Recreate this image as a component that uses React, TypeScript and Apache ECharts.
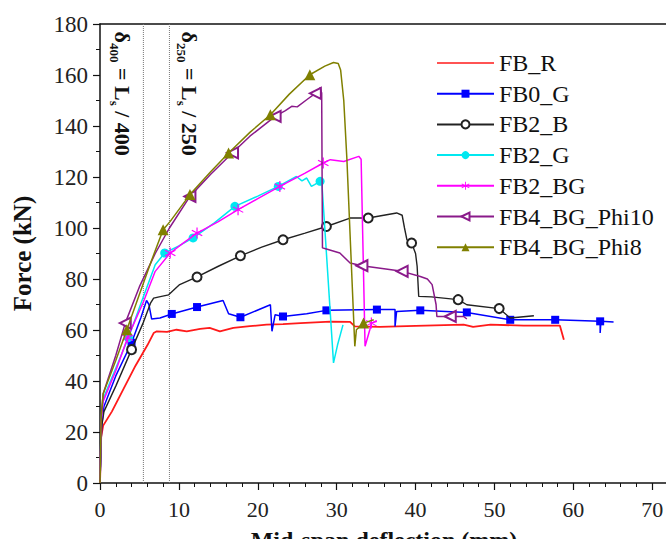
import React, { useEffect, useRef } from "react";
import * as echarts from "echarts";

const seriesNames = ["FB_R", "FB0_G", "FB2_B", "FB2_G", "FB2_BG", "FB4_BG_Phi10", "FB4_BG_Phi8"];
const deflectionLimits = [5.5, 8.8];
const limitLabels = ["δ{s|400} = L{s|s} / 400", "δ{s|250} = L{s|s} / 250"];

const fbR = [[0,0],[0.15,18],[0.4,22.5],[1.5,28],[3,37],[4.5,46],[6,54],[6.8,58.8],[7.2,59.5],[8.5,59.3],[9.7,60.1],[11,59.5],[12.7,60.4],[13.9,60.8],[15.2,59.5],[16.9,60.8],[19,61.5],[21.1,62.1],[23.2,62.3],[25.4,62.7],[29.2,63.3],[31.7,63.2],[32.3,61.4],[35.5,61.2],[40,61.6],[46.1,62.1],[47.3,61.2],[49.5,62.1],[53.7,61.7],[58.3,61.7],[58.8,56.2]];
const fbRMarks: number[] = [];

const fb0G = [[0,0],[0.2,22],[0.5,30],[2,42],[4,55],[5.2,65],[5.9,71.6],[6.2,70],[6.55,64.3],[7.6,64.7],[9.1,66.3],[12.3,69],[15.6,71.6],[16.3,66.4],[17.8,65],[21.6,69.9],[21.8,59.5],[22.2,66],[23.2,65.3],[26.2,66.4],[28.7,67.7],[35.1,68],[37.4,68],[37.4,61.4],[37.6,67.3],[40.6,67.7],[46.5,66.9],[52,64],[57.7,64],[63.4,63.4],[63.4,58.8],[63.5,63.4],[65.1,63.1]];
const fb0GMarks = [4,10,11,14,18,20,21,25,26,27,28,29];

const fb2B = [[0,0],[0.2,22],[0.5,28],[2,38],[4,52.3],[5.5,63],[6.4,70.5],[6.8,72.5],[7.5,73],[8.7,73.8],[10.1,77.8],[12.3,80.8],[15,85],[17.8,89.1],[20.5,92.5],[23.2,95.4],[26,98],[28.7,100.6],[31.7,103.9],[34,103.9],[37.6,105.9],[38.3,105],[38.6,100],[38.9,95.4],[39.5,94.1],[40,90],[40.2,85],[40.4,73.2],[42,73],[45.4,71.9],[46.5,69.9],[50.6,68.4],[52,64.7],[55,65.6]];
const fb2BMarks = [4,11,13,15,17,19,24,29,31];

const fb2G = [[0,0],[0.15,25],[0.4,33],[2,45],[3.6,57],[5.5,73],[7,85.6],[8.2,90.2],[10,93],[11.8,96.1],[14.5,102],[17.1,108.5],[20,112.5],[22.6,116.3],[24.9,120.2],[25.6,118.5],[26.2,119.6],[26.8,116.3],[27.2,117],[27.9,118.3],[28.1,118.9],[29.6,47.1],[30.1,54],[30.8,62]];
const fb2GMarks = [4,7,9,11,13,19];

const fb2BG = [[0,0],[0.15,24],[0.4,32],[2,44],[3.5,57],[5.5,71],[7,83],[8.9,90.2],[10.5,94],[12.3,98],[15,102.5],[17.5,107.2],[20,111.5],[22.8,116.3],[26,121.5],[28.3,125.5],[29.2,126.8],[30.9,126.1],[32.8,128.1],[33.1,127],[33.6,53.6],[34.2,60.1],[34.4,62.7],[35.1,63.4]];
const fb2BGMarks = [4,7,9,11,13,15,22];

const fb4Phi10 = [[0,0],[0.15,26],[0.4,35],[2,50],[3.2,62.7],[5,77],[7,90],[8.8,100],[11.4,112.4],[14,121],[16.8,129.5],[19,136],[22.2,143.8],[23.5,146],[24.3,147.7],[25,147.5],[26.2,150.3],[27.3,152.8],[27.9,155],[28.1,153],[28.2,92.2],[28.7,91.8],[30.4,90.2],[31.7,86.3],[33.2,85.2],[36,84],[38.3,83],[40.6,81],[41.5,80],[42.1,77.8],[42.6,70],[42.7,65.3],[44.4,65.3],[46.1,65.3],[46.5,64.3]];
const fb4Phi10Marks = [4,8,10,12,17,24,26,32];

const fb4Phi8 = [[0,0],[0.15,26],[0.4,35],[2,48],[3.4,60.1],[5,74],[6.5,87],[8,99.3],[8.9,102.6],[11.4,113.1],[14,122],[16.3,129.4],[19,137.5],[21.6,144.4],[24,152.5],[26.6,160.1],[28.5,163.5],[29.6,164.9],[30.2,164.5],[30.5,162],[30.9,150],[31.3,126.8],[32.3,53.6],[32.5,60.1],[33.4,62.7],[34.7,64]];
const fb4Phi8Marks = [4,7,9,11,13,15,24];

const STAR =
  "path://M9 0 H11 V20 H9 Z M1.84 4.13 L19.16 14.13 L18.16 15.87 L0.84 5.87 Z M0.84 14.13 L18.16 4.13 L19.16 5.87 L1.84 15.87 Z";

const styles = [
  { color: "#ff1a1a", symbol: "none", size: 0, rotate: 0, width: 1.8 },
  { color: "#0000ff", symbol: "rect", size: 8, rotate: 0, width: 1.5 },
  { color: "#222222", symbol: "emptyCircle", size: 9, rotate: 0, width: 1.4 },
  { color: "#00e8f0", symbol: "circle", size: 9, rotate: 0, width: 1.5 },
  { color: "#ff00ff", symbol: STAR, size: 11, rotate: 0, width: 1.5 },
  { color: "#8a1a8a", symbol: "emptyTriangle", size: 11, rotate: 90, width: 1.5 },
  { color: "#808000", symbol: "triangle", size: 11, rotate: 0, width: 1.5 },
];

const allData = [fbR, fb0G, fb2B, fb2G, fb2BG, fb4Phi10, fb4Phi8];
const allMarks = [fbRMarks, fb0GMarks, fb2BMarks, fb2GMarks, fb2BGMarks, fb4Phi10Marks, fb4Phi8Marks];

const FONT = "'Liberation Serif', 'Times New Roman', serif";

export default function App() {
  const ref = useRef<HTMLDivElement>(null);
  useEffect(() => {
    if (!ref.current) return;
    const chart = echarts.init(ref.current, undefined, { renderer: "svg" });
    const lineSeries: any[] = seriesNames.map((name, k) => {
      const st = styles[k];
      const marks = allMarks[k];
      return {
        name,
        type: "line",
        data: allData[k].map((p, i) =>
          marks.includes(i) ? { value: p } : { value: p, symbol: "none" }
        ),
        symbol: st.symbol,
        symbolSize: st.size,
        symbolRotate: st.rotate,
        showSymbol: true,
        color: st.color,
        lineStyle: { color: st.color, width: st.width },
        itemStyle: { color: st.color },
        z: 3 + k,
      };
    });
    const limitSeries: any[] = deflectionLimits.map((v, i) => ({
      name: "limit" + i,
      type: "line",
      data: [[v, 0], [v, 180]],
      symbol: "none",
      lineStyle: { color: "#777", width: 1, type: "dotted" },
      silent: true,
      z: 1,
    }));
    const legendData: any[] = seriesNames.map((n, k) =>
      styles[k].symbol === "none" ? { name: n, icon: "path://M0 0 H57 V1.6 H0 Z" } : n
    );
    chart.setOption({
      animation: false,
      backgroundColor: "#ffffff",
      textStyle: { fontFamily: FONT },
      grid: { left: 100, right: -2, top: 24, bottom: 56, outerBoundsMode: "none", containLabel: false },
      legend: {
        data: legendData,
        orient: "vertical",
        left: 431,
        top: 46,
        itemWidth: 57,
        itemHeight: 10,
        itemGap: 6.7,
        textStyle: { fontFamily: FONT, fontSize: 24, lineHeight: 24, color: "#111" },
      },
      xAxis: [
        {
          type: "value",
          min: 0,
          max: 72,
          interval: 10,
          name: "Mid-span deflection (mm)",
          nameLocation: "middle",
          nameGap: 45,
          nameTextStyle: { fontFamily: FONT, fontSize: 24, fontWeight: "bold", color: "#111" },
          axisLine: { show: true, lineStyle: { color: "#111", width: 1.5 } },
          axisTick: { show: true, length: 7, lineStyle: { color: "#111", width: 1.2 } },
          minorTick: { show: true, splitNumber: 5, length: 4, lineStyle: { color: "#111", width: 1 } },
          axisLabel: {
            fontFamily: FONT,
            fontSize: 22,
            color: "#222",
            margin: 15,
            formatter: (v: number) => (v % 10 === 0 ? String(v) : ""),
          },
          splitLine: { show: false },
        },
        {
          type: "value",
          position: "top",
          min: 0,
          max: 72,
          axisLine: { show: true, onZero: false, lineStyle: { color: "#111", width: 1.5 } },
          axisTick: { show: false },
          axisLabel: { show: false },
          splitLine: { show: false },
        },
      ],
      yAxis: {
        type: "value",
        min: 0,
        max: 180,
        interval: 20,
        name: "Force (kN)",
        nameLocation: "middle",
        nameGap: 65,
        nameTextStyle: { fontFamily: FONT, fontSize: 25, fontWeight: "bold", color: "#111" },
        axisLine: { show: true, lineStyle: { color: "#111", width: 1.5 } },
        axisTick: { show: true, length: 7, lineStyle: { color: "#111", width: 1.2 } },
        minorTick: { show: true, splitNumber: 2, length: 4, lineStyle: { color: "#111", width: 1 } },
        axisLabel: { fontFamily: FONT, fontSize: 23, color: "#222", margin: 12 },
        splitLine: { show: false },
      },
      graphic: limitLabels.map((t, i) => ({
        type: "text",
        x: [122, 189][i],
        y: 31,
        rotation: -Math.PI / 2,
        z: 10,
        style: {
          text: "{sp| }" + t,
          align: "left",
          verticalAlign: "middle",
          fontFamily: FONT,
          fontSize: 22,
          fontWeight: "bold",
          fill: "#111",
          rich: {
            sp: { fontSize: 2, lineHeight: 28 },
            s: { fontSize: 13, lineHeight: 13, verticalAlign: "bottom", fontFamily: FONT, fontWeight: "bold", fill: "#111" },
          },
        } as any,
      })),
      series: [...limitSeries, ...lineSeries],
    });
    return () => chart.dispose();
  }, []);
  return (
    <div
      ref={ref}
      style={{ position: "fixed", left: 0, top: 0, width: 666, height: 539, background: "#fff" }}
    />
  );
}
